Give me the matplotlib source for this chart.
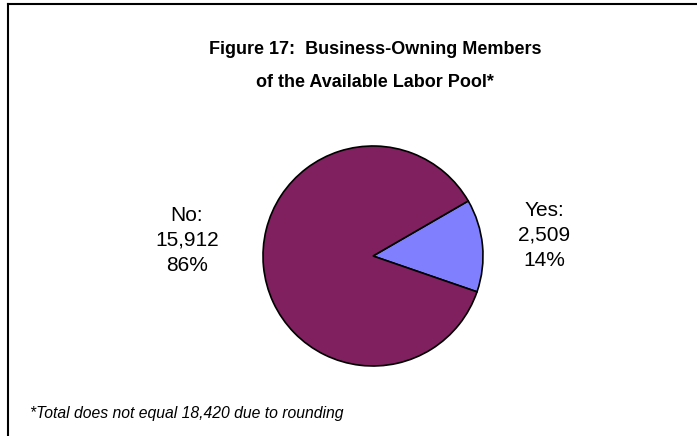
import matplotlib.pyplot as plt
from matplotlib.lines import Line2D

plt.rcParams['font.family'] = ['Liberation Sans', 'DejaVu Sans']

# business-owning members of the labor pool
labels = ['Yes', 'No']
counts = [2509, 15912]
shares = [14, 86]
colors = ['#8080FF', '#80205F']

W, H = 697, 436
fig = plt.figure(figsize=(W / 100, H / 100), dpi=100)

# frame: top and left edges only
fig.add_artist(Line2D([8 / W, 1], [1 - 4 / H, 1 - 4 / H], color='black', lw=1.5))
fig.add_artist(Line2D([8 / W, 8 / W], [0, 1 - 4 / H], color='black', lw=1.5))

# pie: center (373, 256), radius 110 px
cx, cy, r = 373, 256, 110
ax = fig.add_axes([(cx - r) / W, (H - cy - r) / H, 2 * r / W, 2 * r / H])
ax.pie(counts, colors=colors, startangle=-19, counterclock=True,
       wedgeprops=dict(edgecolor='black', linewidth=1.2))
ax.set_xlim(-1, 1)
ax.set_ylim(-1, 1)
ax.axis('off')

def lbl(i):
    return f'{labels[i]}:\n{counts[i]:,}\n{shares[i]}%'

fig.text(544 / W, 1 - 235 / H, lbl(0), ha='center', va='center',
         fontsize=15, linespacing=1.4)
fig.text(187 / W, 1 - 240 / H, lbl(1), ha='center', va='center',
         fontsize=15, linespacing=1.4)

fig.text(375 / W, 1 - 66 / H,
         'Figure 17:  Business-Owning Members\nof the Available Labor Pool*',
         ha='center', va='center', fontsize=13, fontweight='bold',
         linespacing=2.2)

fig.text(30 / W, 1 - 413 / H, '*Total does not equal 18,420 due to rounding',
         ha='left', va='center', fontsize=11.3, style='italic')

fig.savefig('out.png', dpi=100)
